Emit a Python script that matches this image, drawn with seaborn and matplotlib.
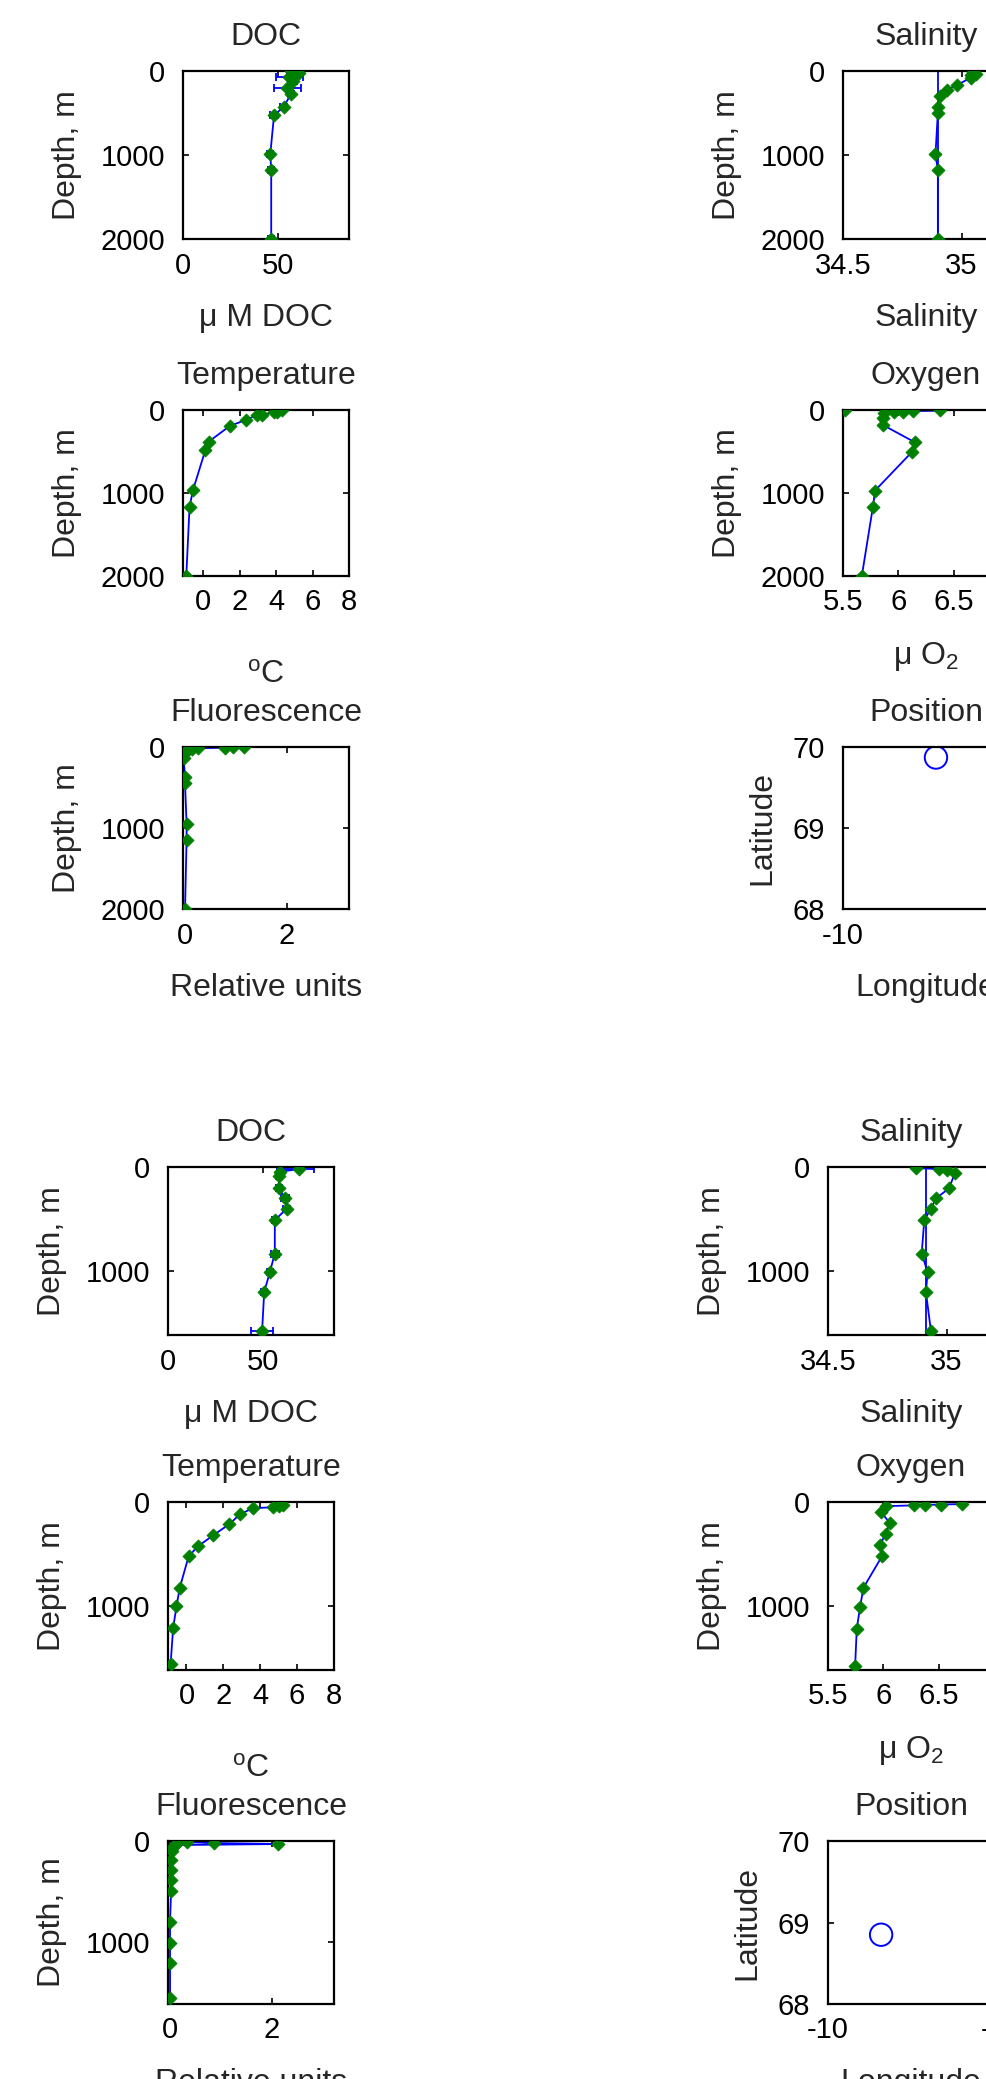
import matplotlib
matplotlib.use("Agg")
import matplotlib.pyplot as plt
import seaborn as sns
import pandas as pd

# ---------------- station A (upper figure) ----------------
A_max_depth = 2000
A_doc_depth = [5, 20, 45, 70, 120, 200, 270, 430, 525, 990, 1180, 2000]
A_doc_val = [57, 61, 58, 56, 58, 55, 57, 53, 48, 46, 46.5, 46.5]
A_doc_err = [1.5, 2.5, 3, 7, 2, 7, 1.5, 2, 2, 1.5, 1.5, 1.5]

A_sal_depth = [10, 30, 50, 80, 167, 226, 300, 428, 500, 990, 1180, 2000]
A_sal_val = [35.05, 35.06, 35.04, 35.04, 34.98, 34.94, 34.91, 34.90, 34.90, 34.89, 34.90, 34.90]
A_sal_ctd_depth = [0, 2000]
A_sal_ctd_val = [34.90, 34.90]

A_tem_depth = [0, 20, 30, 55, 60, 120, 193, 380, 482, 964, 1165, 2000]
A_tem_val = [4.3, 4.07, 3.9, 3.24, 2.96, 2.32, 1.45, 0.30, 0.11, -0.57, -0.76, -0.94]

A_oxy_depth = [0, 5, 10, 20, 30, 40, 100, 180, 390, 510, 970, 1170, 2000]
A_oxy_val = [5.52, 6.38, 6.13, 6.04, 5.96, 5.87, 5.86, 5.86, 6.15, 6.12, 5.79, 5.77, 5.67]

A_flu_depth = [0, 4, 8, 15, 25, 40, 60, 90, 140, 366, 450, 950, 1150, 2000]
A_flu_val = [1.15, 0.95, 0.79, 0.26, 0.13, 0.03, 0.0, -0.02, -0.03, 0.0, 0.0, 0.03, 0.03, 0.0]

A_lon = [-7.2]
A_lat = [69.87]

# ---------------- station B (lower figure) ----------------
B_max_depth = 1610
B_doc_depth = [20, 45, 90, 205, 300, 400, 510, 830, 1005, 1200, 1570]
B_doc_val = [69, 58.9, 58.5, 58.6, 61.6, 62.5, 56.3, 56.3, 53.7, 50.7, 49.6]
B_doc_err = [8, 1.5, 1.5, 1.5, 2, 2, 1.5, 2, 1.5, 1.5, 6]

B_sal_depth = [10, 20, 30, 60, 205, 300, 400, 510, 830, 1005, 1200, 1570]
B_sal_val = [34.87, 34.97, 35.00, 35.035, 35.01, 34.956, 34.934, 34.906, 34.895, 34.92, 34.913, 34.934]
B_sal_ctd_depth = [0, 1610]
B_sal_ctd_val = [34.913, 34.913]

B_tem_depth = [30, 40, 50, 60, 117, 212, 320, 424, 520, 820, 1000, 1206, 1555]
B_tem_val = [5.21, 5.0, 4.67, 3.6, 2.9, 2.33, 1.44, 0.63, 0.12, -0.36, -0.54, -0.72, -0.86]

B_oxy_depth = [20, 24, 28, 32, 40, 97, 203, 306, 413, 516, 822, 1006, 1216, 1570]
B_oxy_val = [6.715, 6.52, 6.38, 6.28, 6.02, 5.98, 6.06, 6.02, 5.97, 5.99, 5.82, 5.79, 5.76, 5.745]

B_flu_depth = [5, 12, 20, 30, 40, 55, 100, 186, 284, 389, 497, 797, 1003, 1205, 1548]
B_flu_val = [0.15, 0.34, 0.87, 2.12, 0.1, 0.05, 0.03, 0.02, 0.02, 0.02, 0.02, 0.0, 0.0, 0.0, 0.0]

B_lon = [-8.4]
B_lat = [68.85]

# ---------------- axis settings ----------------
doc_xticks, doc_xlabels = [0, 50], ["0", "50"]
sal_xticks, sal_xlabels = [34.5, 35], ["34.5", "35"]
tem_xticks, tem_xlabels = [0, 2, 4, 6, 8], ["0", "2", "4", "6", "8"]
oxy_xticks, oxy_xlabels = [5.5, 6, 6.5, 7], ["5.5", "6", "6.5", "7"]
flu_xticks, flu_xlabels = [0, 2], ["0", "2"]
pos_xticks, pos_xlabels = [-10, -5], ["-10", "-5"]
pos_yticks, pos_ylabels = [68, 69, 70], ["68", "69", "70"]

# ---------------- style ----------------
sns.set_style("ticks")
plt.rcParams["font.family"] = ["Liberation Sans", "DejaVu Sans"]
plt.rcParams["mathtext.fontset"] = "custom"
plt.rcParams["mathtext.rm"] = "Liberation Sans"
plt.rcParams["mathtext.default"] = "regular"

BLUE = "#0000ff"
GREEN = "#008000"
LW = 1.3
TXT = 23
TICK = 21

W, H = 987, 2079
fig = plt.figure(figsize=(W / 100, H / 100), dpi=100)


def add_ax(left, top, width, bottom):
    return fig.add_axes([left / W, 1 - bottom / H, width / W, (bottom - top) / H])


def style(ax, xlim, xticks, xlabels, ylim, yticks, ylabels, title, xlabel, ylabel,
          xlabelpad=17, ylabelpad=13.5):
    ax.set_xlim(xlim)
    ax.set_ylim(ylim)
    ax.set_xticks(xticks)
    ax.set_xticklabels(xlabels)
    ax.set_yticks(yticks)
    ax.set_yticklabels(ylabels)
    ax.set_title(title, fontsize=TXT, pad=19)
    ax.set_xlabel(xlabel, fontsize=TXT, labelpad=xlabelpad)
    ax.set_ylabel(ylabel, fontsize=TXT, labelpad=ylabelpad)
    ax.tick_params(direction="in", top=True, right=True, length=4, width=1.2,
                   labelsize=TICK, colors="black")
    ax.tick_params(axis="x", pad=9)
    ax.tick_params(axis="y", pad=13)
    for s in ax.spines.values():
        s.set_visible(True)
        s.set_linewidth(1.6)
        s.set_color("black")


def profile(ax, val, depth, err=None, ctd_val=None, ctd_depth=None):
    df = pd.DataFrame({"v": val, "d": depth})
    if ctd_val is not None:
        cdf = pd.DataFrame({"v": ctd_val, "d": ctd_depth})
        sns.lineplot(data=cdf, x="v", y="d", sort=False, estimator=None,
                     color=BLUE, lw=LW, ax=ax)
    sns.lineplot(data=df, x="v", y="d", sort=False, estimator=None,
                 color=BLUE, lw=LW, ax=ax)
    if err is not None:
        ax.errorbar(val, depth, xerr=err, fmt="none", ecolor=BLUE,
                    elinewidth=LW, capsize=3, capthick=LW)
    sns.scatterplot(data=df, x="v", y="d", marker="D", s=44, color=GREEN,
                    edgecolor=GREEN, linewidth=0.6, ax=ax, zorder=3)


def position(ax, lon, lat):
    sns.scatterplot(x=lon, y=lat, marker="o", s=260, ax=ax)
    pts = ax.collections[-1]
    pts.set_facecolor("none")
    pts.set_edgecolor(BLUE)
    pts.set_linewidth(1.4)


def station(cols, rows, maxd, dticks, d):
    dlabels = [str(t) for t in dticks]
    ylim = (maxd, 0)
    w = 166
    # DOC
    ax = add_ax(cols[0], rows[0][0], w, rows[0][1])
    profile(ax, d["doc_val"], d["doc_depth"], err=d["doc_err"])
    style(ax, (0, 87.5), doc_xticks, doc_xlabels, ylim, dticks, dlabels,
          "DOC", "\u03bc M DOC", "Depth, m")
    # Salinity
    ax = add_ax(cols[1], rows[0][0], w, rows[0][1])
    profile(ax, d["sal_val"], d["sal_depth"], ctd_val=d["sal_ctd_val"],
            ctd_depth=d["sal_ctd_depth"])
    style(ax, (34.5, 35.2), sal_xticks, sal_xlabels, ylim, dticks, dlabels,
          "Salinity", "Salinity", "Depth, m")
    # Temperature
    ax = add_ax(cols[0], rows[1][0], w, rows[1][1])
    profile(ax, d["tem_val"], d["tem_depth"])
    style(ax, d["tem_xlim"], tem_xticks, tem_xlabels, ylim, dticks, dlabels,
          "Temperature", r"$^{\rm o}$C", "Depth, m", xlabelpad=31)
    # Oxygen
    ax = add_ax(cols[1], rows[1][0], w, rows[1][1])
    profile(ax, d["oxy_val"], d["oxy_depth"])
    style(ax, (5.5, 7), oxy_xticks, oxy_xlabels, ylim, dticks, dlabels,
          "Oxygen", "\u03bc O$_2$", "Depth, m")
    # Fluorescence
    ax = add_ax(cols[0], rows[2][0], w, rows[2][1])
    profile(ax, d["flu_val"], d["flu_depth"])
    style(ax, (-0.04, 3.22), flu_xticks, flu_xlabels, ylim, dticks, dlabels,
          "Fluorescence", "Relative units", "Depth, m")
    # Position
    ax = add_ax(cols[1], rows[2][0], w, rows[2][1])
    position(ax, d["lon"], d["lat"])
    style(ax, (-10, -5), pos_xticks, pos_xlabels, (68, 70), pos_yticks, pos_ylabels,
          "Position", "Longitude", "Latitude", ylabelpad=10.5)


station([183, 843], [(71, 239), (410, 576), (747, 909)], A_max_depth, [0, 1000, 2000],
        dict(doc_val=A_doc_val, doc_depth=A_doc_depth, doc_err=A_doc_err,
             sal_val=A_sal_val, sal_depth=A_sal_depth,
             sal_ctd_val=A_sal_ctd_val, sal_ctd_depth=A_sal_ctd_depth,
             tem_val=A_tem_val, tem_depth=A_tem_depth, tem_xlim=(-1.12, 8),
             oxy_val=A_oxy_val, oxy_depth=A_oxy_depth,
             flu_val=A_flu_val, flu_depth=A_flu_depth,
             lon=A_lon, lat=A_lat))

station([168, 828], [(1167, 1335), (1502, 1670), (1841, 2004)], B_max_depth, [0, 1000],
        dict(doc_val=B_doc_val, doc_depth=B_doc_depth, doc_err=B_doc_err,
             sal_val=B_sal_val, sal_depth=B_sal_depth,
             sal_ctd_val=B_sal_ctd_val, sal_ctd_depth=B_sal_ctd_depth,
             tem_val=B_tem_val, tem_depth=B_tem_depth, tem_xlim=(-1.0, 8),
             oxy_val=B_oxy_val, oxy_depth=B_oxy_depth,
             flu_val=B_flu_val, flu_depth=B_flu_depth,
             lon=B_lon, lat=B_lat))

fig.savefig("out.png", dpi=100)
